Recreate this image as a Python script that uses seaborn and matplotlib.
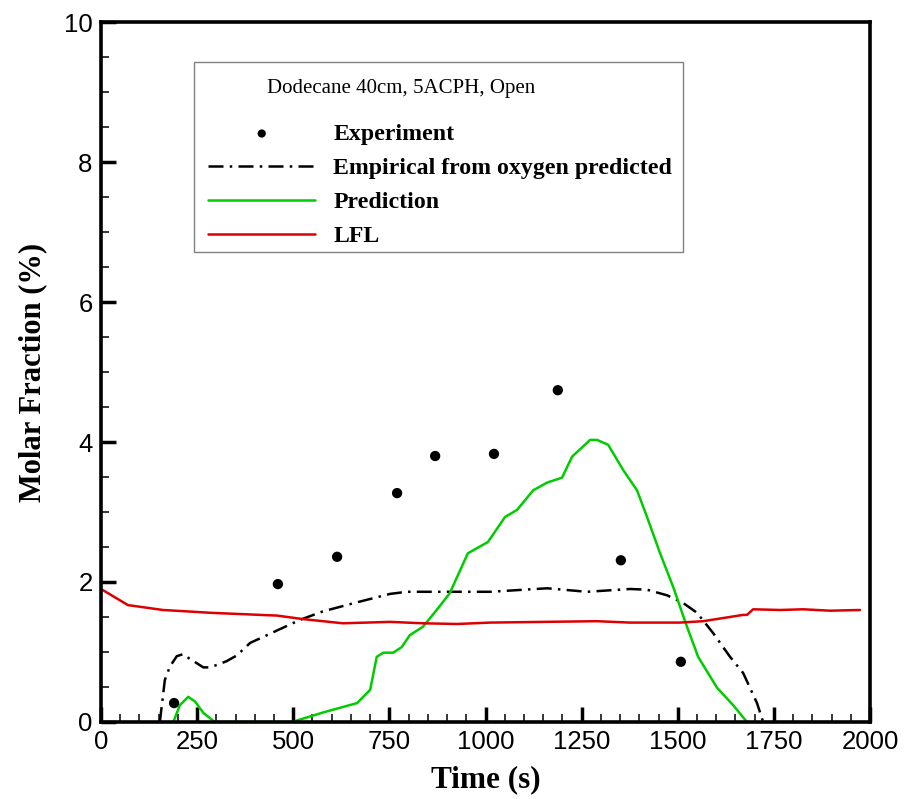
import matplotlib
matplotlib.use('Agg')
import matplotlib.pyplot as plt
from matplotlib.patches import Rectangle
from matplotlib.ticker import MultipleLocator
import seaborn as sns

# Experiment points
time_exp = [190, 460, 614, 770, 869, 1022, 1188, 1352, 1508]
frac_exp = [0.27, 1.97, 2.36, 3.27, 3.80, 3.83, 4.74, 2.31, 0.86]

# Empirical from oxygen predicted
time_emp = [153, 166, 179, 197, 214, 231, 249, 266, 283, 309, 327, 353, 388, 518, 577, 666, 752, 795,
            1012, 1160, 1264, 1376, 1420, 1472, 1514, 1550, 1592, 1636, 1670, 1706, 1722]
frac_emp = [0, 0.60, 0.79, 0.94, 0.97, 0.90, 0.84, 0.78, 0.78, 0.83, 0.87, 0.95, 1.13, 1.46, 1.58,
            1.71, 1.83, 1.86, 1.86, 1.91, 1.86, 1.90, 1.89, 1.81, 1.70, 1.56, 1.27, 0.93, 0.70,
            0.27, 0]

# Prediction
time_pred = [188, 205, 227, 245, 266, 296, 497, 580, 666, 700, 717, 734, 760, 782, 803,
             837, 873, 907, 954, 1006, 1051, 1082, 1124, 1160, 1199, 1225, 1272, 1290, 1319,
             1358, 1394, 1420, 1454, 1488, 1524, 1553, 1602, 1644, 1680]
frac_pred = [0, 0.24, 0.36, 0.29, 0.13, 0, 0, 0.14, 0.27, 0.46, 0.93, 0.99, 0.99, 1.07, 1.24,
             1.36, 1.60, 1.84, 2.41, 2.57, 2.93, 3.03, 3.31, 3.42, 3.49, 3.79, 4.03, 4.03, 3.96,
             3.60, 3.31, 2.93, 2.41, 1.93, 1.36, 0.93, 0.49, 0.24, 0]

# LFL
time_lfl = [0, 70, 161, 224, 284, 458, 525, 629, 752, 837, 926, 1012, 1290, 1375, 1506, 1566,
            1670, 1680, 1696, 1766, 1826, 1896, 1974]
frac_lfl = [1.90, 1.67, 1.60, 1.58, 1.56, 1.52, 1.47, 1.41, 1.43, 1.41, 1.40, 1.42, 1.44, 1.42,
            1.42, 1.44, 1.53, 1.53, 1.61, 1.60, 1.61, 1.59, 1.60]

sns.set_style('ticks')
plt.rcParams['font.family'] = ['Liberation Sans', 'DejaVu Sans']

fig = plt.figure(figsize=(9.06, 7.99), dpi=100)
ax = fig.add_axes([0.1115, 0.0964, 0.8488, 0.876])

serif = ['Liberation Serif', 'DejaVu Serif']

sns.lineplot(x=time_emp, y=frac_emp, ax=ax, color='black', lw=1.8,
             linestyle=(0, (6, 2.5, 1, 2.5)), label='Empirical from oxygen predicted')
sns.lineplot(x=time_pred, y=frac_pred, ax=ax, color='#00cc00', lw=1.8, label='Prediction')
sns.lineplot(x=time_lfl, y=frac_lfl, ax=ax, color='#dd0000', lw=1.8, label='LFL')
sns.scatterplot(x=time_exp, y=frac_exp, ax=ax, color='black', s=55, edgecolor='none',
                label='Experiment', zorder=5)

ax.set_xlim(0, 2000)
ax.set_ylim(0, 10)
ax.xaxis.set_major_locator(MultipleLocator(250))
ax.xaxis.set_minor_locator(MultipleLocator(50))
ax.yaxis.set_major_locator(MultipleLocator(2))
ax.yaxis.set_minor_locator(MultipleLocator(0.5))
ax.tick_params(which='major', direction='in', length=11, width=2.5, labelsize=18.5, pad=6,
               color='black', labelcolor='black')
ax.tick_params(which='minor', direction='in', length=5.5, width=1.1, color='black')
for sp in ax.spines.values():
    sp.set_linewidth(2.6)
    sp.set_color('black')
    sp.set_zorder(6)

ax.set_xlabel('Time (s)', fontsize=22.5, fontweight='bold', family=serif, labelpad=8, color='black')
ax.set_ylabel('Molar Fraction (%)', fontsize=22, fontweight='bold', family=serif, labelpad=12,
              color='black')

# legend box, title and entries
ax.add_patch(Rectangle((0.1209, 0.6714), 0.6359, 0.2714, transform=ax.transAxes,
                       facecolor='white', edgecolor='#808080', lw=1.0, zorder=7))
ax.text(0.2159, 0.9057, 'Dodecane 40cm, 5ACPH, Open', transform=ax.transAxes,
        ha='left', va='center', fontsize=15, family=serif, color='black', zorder=8)

handles, labels = ax.get_legend_handles_labels()
order = ['Experiment', 'Empirical from oxygen predicted', 'Prediction', 'LFL']
hmap = dict(zip(labels, handles))
leg = ax.legend([hmap[k] for k in order], order, loc='upper left',
                bbox_to_anchor=(0.1391, 0.8557), borderaxespad=0, frameon=False,
                prop={'family': serif, 'weight': 'bold', 'size': 17.2},
                handlelength=4.5, handletextpad=0.75, labelspacing=0.52, borderpad=0,
                markerscale=0.8)
leg.set_zorder(9)
for t in leg.get_texts():
    t.set_color('black')

fig.savefig('out.png', dpi=100)
